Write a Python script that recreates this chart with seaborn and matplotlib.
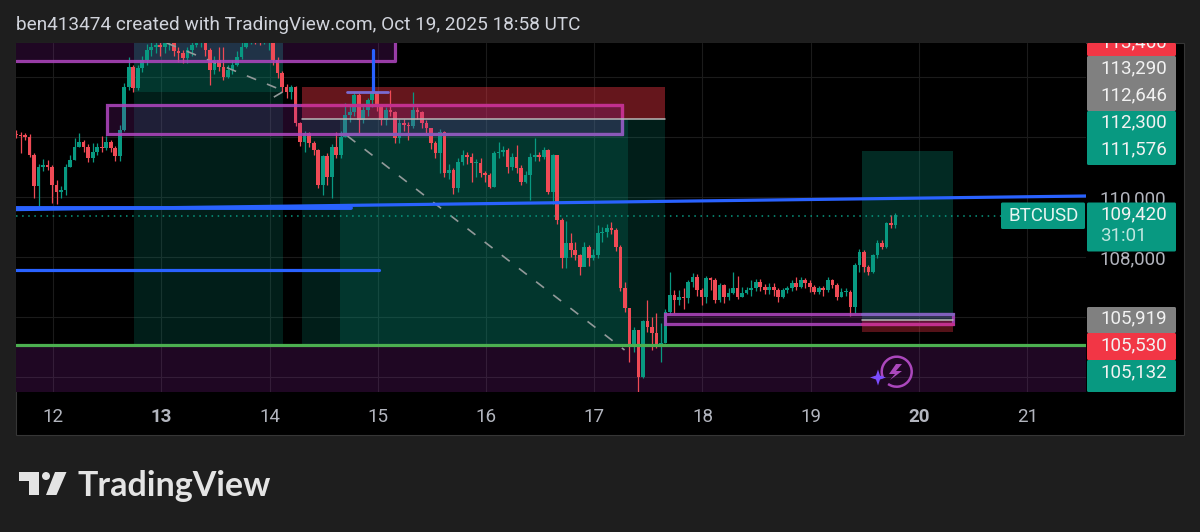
import numpy as np
import pandas as pd
import matplotlib
matplotlib.use("Agg")
import matplotlib.pyplot as plt
from matplotlib.patches import Rectangle, FancyBboxPatch, Polygon, Circle, Arc
from matplotlib.transforms import Bbox
import seaborn as sns

# ---------- data (BTCUSD hourly candles) ----------
close = [112070,112030,112010,111400,110350,111010,111070,111010,110400,110180,110230,111010,111230,111680,111840,111680,111290,111510,111680,111620,111840,111620,111350,112230,113680,114340,113620,114290,114570,114900,115010,115070,115010,115120,115230,114850,114790,114620,114900,115070,115120,115180,114900,114230,114570,114340,114010,114230,114400,114680,115010,115180,115290,115230,115180,115230,115230,114570,114120,113680,113510,113680,112460,111840,112120,111790,111570,110400,111350,110680,111680,111400,112000,112730,112840,113400,112570,112900,113230,113450,113010,112570,112900,112840,111950,112460,112400,112350,112900,112840,112460,112290,111790,111460,112180,110790,110900,110290,111180,111400,111340,111120,111120,110790,110730,110340,111460,111510,111570,111010,111340,110960,110510,110730,111340,111400,111340,111570,110180,111400,109230,107950,108460,108230,108070,107680,108340,107950,108070,108790,108840,108950,108900,108340,106950,106290,105070,105570,104010,105850,105680,105450,105070,105120,106180,106730,106570,106680,106620,107180,107340,106900,106680,107290,107230,106570,107070,106680,106790,106950,106680,106790,106900,106950,107180,107010,106900,107010,106900,106680,106900,106950,107120,107010,107230,107120,107010,106840,106950,106900,107230,107070,106680,106840,106840,106340,107730,108180,107680,107510,108070,108460,108340,109120,109070,109400]
high = [112230,112180,112120,112100,111480,111100,111250,111220,111050,110560,110350,111090,111400,111950,112120,111900,111750,111790,111800,112030,112020,111900,111700,112400,113800,114680,114400,114400,114700,115100,115200,115200,115200,115300,115300,115250,115000,114900,115000,115200,115300,115300,115250,114950,114700,115000,115000,114400,114550,114850,115200,115300,115400,115350,115300,115350,115350,115300,114650,114200,113750,113720,113700,112500,112200,112180,111850,111600,111400,111450,111750,112170,112200,113120,113050,113500,113450,113050,113300,113550,113450,113100,113000,113570,112850,112600,112600,112500,113500,113000,112850,112550,112300,111850,112250,112200,111100,110950,111300,111550,111500,111450,111250,111300,110850,110800,111520,111830,111700,111620,111450,111720,111050,110850,111450,111950,111500,111650,111600,111430,110730,109300,109200,108790,108500,108100,108500,108400,108250,109070,109000,109090,109180,108950,108400,107150,106300,105650,105150,105900,106560,106000,106120,105790,106250,107510,106900,106900,106950,107230,107450,107430,106950,107350,107320,107300,107130,107100,106950,107500,107350,107000,107000,107230,107250,107270,107100,107120,107130,106950,106980,107030,107230,107320,107320,107300,107230,107050,107030,107030,107340,107280,107120,106950,106950,106900,107800,108250,108220,107730,108100,108550,108570,109180,109400,109450]
low = [111950,111450,111900,111320,109950,109680,110850,110900,109800,109750,109950,110050,111000,111230,111650,111500,111150,111170,111400,111500,111550,111500,111200,111200,112200,113550,113500,113550,114150,114400,114700,114800,114700,114800,114900,114700,114500,114450,114450,114700,115000,115000,114700,113730,114100,114200,113900,113950,114100,114350,114600,114950,115100,115100,115050,115100,114900,114400,113950,113500,113300,113250,112350,111700,111500,111650,111400,110300,110050,110400,109950,111300,111300,112000,112500,112700,112070,112450,112700,113000,112850,112400,112400,112700,111790,111800,112200,111900,112300,112600,112300,112100,111600,111300,110800,110650,110600,110100,110170,111050,111100,110500,110650,110650,110500,110300,110340,111300,111350,110800,110900,110800,110400,110450,109900,111200,111200,111250,110100,109750,109100,107630,107620,108000,107900,107400,107730,107700,107900,107950,108500,108650,108750,108200,106850,106150,104510,104840,103510,103950,105500,104900,104950,104510,105120,106100,106120,106400,106250,106480,107000,106700,106400,106450,106900,106450,106500,106450,106550,106750,106600,106650,106750,106700,106850,106850,106750,106780,106700,106500,106640,106800,106850,106890,106950,106950,106820,106750,106780,106700,106830,106950,106560,106650,106700,106030,106120,107500,107500,107400,107450,107950,108250,108300,108980,108950]
first_open = 112100
first_day = 11.658
day_ticks = [12, 13, 14, 15, 16, 17, 18, 19, 20, 21]
bold_days = [13, 20]
price_ticks = [114000, 112000, 110000, 108000, 106000, 104000]
shown_price_labels = [110000, 108000]
trend_days = [11.658, 21.543]
trend_prices = [109580, 110033]
last_price = 109380
support = 105067
upper_labels = ["113,460", "113,290", "112,646", "112,300", "111,576"]
lower_labels = ["105,919", "105,530", "105,132"]
title = "ben413474 created with TradingView.com, Oct 19, 2025 18:58 UTC"

GREEN, RED, PURPLE, BLUE = "#089981", "#f23645", "#9c27b0", "#2962ff"
CANDLE_RED = "#ef4a55"
MAGENTA = "#c2308e"
GREY = "#808080"

sns.set_theme(style="dark")
plt.rcParams["font.family"] = ["Roboto", "DejaVu Sans"]

W, H = 1200, 532
fig = plt.figure(figsize=(W / 100, H / 100), dpi=100, facecolor="#1e1e1e")

# black chart frame behind everything
bg = fig.add_axes([0, 0, 1, 1], zorder=0)
bg.set_xlim(0, W); bg.set_ylim(H, 0); bg.axis("off")
bg.add_patch(Rectangle((16, 43), 1168, 392, fc="#000000", ec="#363636", lw=0.8))

ax = fig.add_axes([16 / W, 1 - 392 / H, 1070 / W, 349 / H], zorder=1)
ax.set_facecolor("#000000")
ax.set_xlim(11.658, 21.543)
ax.set_ylim(103500, 115133)
for s in ax.spines.values():
    s.set_visible(False)
ax.set_xticks(day_ticks)
ax.set_xticklabels([str(d) for d in day_ticks], fontsize=13.5, color="#b2b5be")
for lab, d in zip(ax.get_xticklabels(), day_ticks):
    if d in bold_days:
        lab.set_fontweight("bold")
ax.yaxis.tick_right()
ax.set_yticks(price_ticks)
ax.set_yticklabels([f"{p:,}" if p in shown_price_labels else "" for p in price_ticks],
                   fontsize=13.5, color="#b2b5be")
ax.tick_params(axis="x", length=0, pad=11.5)
ax.tick_params(axis="y", length=0, pad=10)
ax.grid(True, color="#1b1b1b", lw=0.8)
ax.set_axisbelow(True)


def box(x0, x1, p0, p1, **kw):
    ax.add_patch(Rectangle((x0, p0), x1 - x0, p1 - p0, **kw))


# position boxes
box(12.748, 14.125, 105090, 115133, fc=GREEN, alpha=0.20, lw=0, zorder=1)
box(12.748, 14.125, 113500, 115133, fc=GREEN, alpha=0.20, lw=0, zorder=1)
box(14.300, 17.654, 105090, 112600, fc=GREEN, alpha=0.20, lw=0, zorder=1)
box(14.651, 17.312, 105090, 112600, fc=GREEN, alpha=0.20, lw=0, zorder=1)
box(14.300, 17.654, 112600, 113667, fc=RED, alpha=0.42, lw=0, zorder=1)
box(19.473, 20.314, 105900, 111533, fc=GREEN, alpha=0.28, lw=0, zorder=1)
box(19.473, 20.314, 105500, 105900, fc=RED, alpha=0.35, lw=0, zorder=1)
# demand zones
box(11.658, 15.159, 114533, 115300, fc=PURPLE, alpha=0.20, lw=0, zorder=1)
box(11.658, 21.543, 103500, 105033, fc=PURPLE, alpha=0.20, lw=0, zorder=1)

# candles
df = pd.DataFrame({"close": close, "high": high, "low": low})
df["open"] = df["close"].shift(1).fillna(first_open)
df["day"] = first_day + np.arange(len(df)) / 24
df["color"] = np.where(df["close"] >= df["open"], GREEN, CANDLE_RED)
ax.vlines(df["day"], df["low"], df["high"], colors=df["color"], lw=0.9, zorder=3)
ax.bar(df["day"], (df["close"] - df["open"]).abs().clip(lower=40),
       bottom=df[["open", "close"]].min(axis=1), width=0.034,
       color=df["color"], lw=0, zorder=3)

# drawn rectangles
edge = (0.68, 0.27, 0.74, 0.88)
for x0, x1, p0, p1 in [(12.499, 17.256, 112100, 113067), (17.654, 20.314, 105750, 106100)]:
    box(x0, x1, p0, p1, fc=(0.61, 0.15, 0.69, 0.2), ec=edge, lw=2.3, zorder=4)
ax.plot([11.658, 15.159, 15.159], [114533, 114533, 115200], color=edge, lw=2.3, zorder=4)
# the same borders where they cross the red and green boxes
ax.plot([14.30, 17.256, 17.256], [113067, 113067, 112600], color=MAGENTA, lw=2.3, zorder=4)
ax.plot([14.651, 17.256], [112100, 112100], color="#8a58b8", lw=2.3, zorder=4)
ax.plot([17.256, 17.256], [112600, 112100], color="#8a58b8", lw=2.3, zorder=4)
ax.plot([19.473, 20.314], [106100, 106100], color="#8060bc", lw=2.3, zorder=4)
ax.plot([19.473, 20.314], [105750, 105750], color=MAGENTA, lw=2.3, zorder=4)

# white entry lines
ax.plot([14.300, 17.654], [112600, 112600], color="#b8b8b8", lw=1.1, zorder=4)
ax.plot([19.473, 20.314], [105900, 105900], color="#b8b8b8", lw=1.1, zorder=4)

# dashed path
for dx, dy in [([13.05, 14.11], [115133, 113567]), ([14.04, 14.12], [113330, 113500]),
               ([14.72, 17.28], [112033, 104900])]:
    ax.plot(dx, dy, color="#929999", lw=1.2, dashes=(6, 7), zorder=3)

# lines through seaborn
sns.lineplot(x=trend_days, y=trend_prices, ax=ax, color=BLUE, lw=2.3, zorder=5, estimator=None)
sns.lineplot(x=[11.658, 14.753], y=[109630, 109630], ax=ax, color=BLUE, lw=2.8, zorder=5, estimator=None)
sns.lineplot(x=[11.658, 15.012], y=[107550, 107550], ax=ax, color=BLUE, lw=2.3, zorder=5, estimator=None)
sns.lineplot(x=[14.956, 14.956], y=[113500, 114900], ax=ax, color=BLUE, lw=2.3, zorder=5, estimator=None)
sns.lineplot(x=[14.716, 15.095], y=[113500, 113500], ax=ax, color="#7a6bd0", lw=2.0, zorder=5, estimator=None)
sns.lineplot(x=[11.658, 21.543], y=[support, support], ax=ax, color="#4caf50", lw=2.3, zorder=5, estimator=None)
ax.plot([11.658, 20.88], [last_price, last_price], color=GREEN, lw=1.1, ls=(0, (1, 3)), zorder=4)
ax.set_xlabel(""); ax.set_ylabel("")

# overlay in figure pixels: price labels, header, logo
ov = fig.add_axes([0, 0, 1, 1], zorder=5)
ov.set_xlim(0, W); ov.set_ylim(H, 0); ov.axis("off"); ov.patch.set_alpha(0)


def tag(x, y, w, h, color, z=2):
    p = FancyBboxPatch((x, y), w, h, boxstyle="round,pad=0,rounding_size=1.5", fc=color, ec="none", zorder=z)
    ov.add_patch(p)
    return p


def label(y, s, color="#f2f2f2", clip=None):
    t = ov.text(1167, y, s, ha="right", va="center", fontsize=13.5, color=color, zorder=4)
    if clip is not None:
        t.set_clip_on(True)
        t.set_clip_box(clip)


tag(1087, 43, 89, 13, RED)
tag(1087, 56, 89, 55, GREY)
tag(1087, 111, 89, 54, GREEN)
tag(1087, 307, 89, 26, GREY)
tag(1087, 333, 89, 27, RED)
tag(1087, 360, 89, 32, GREEN)
tag(1087, 202.5, 89, 49, GREEN)
tag(1001, 202.5, 84, 26.5, GREEN)
# the top label is cut off by the chart's upper edge, as in the reference
label(42, upper_labels[0], clip=Bbox.from_extents(1087, H - 56, 1176, H - 43))
for y, s in zip([68.5, 95.5, 122.5, 149.5], upper_labels[1:]):
    label(y, s)
for y, s in zip([318, 345, 372], lower_labels):
    label(y, s)
label(214, "109,420")
ov.text(1100, 236, "31:01", ha="left", va="center", fontsize=13.5, color="#bfe6df", zorder=4)
ov.text(1043.5, 216, "BTCUSD", ha="center", va="center", fontsize=13.5, color="#e6f5f2", zorder=4)

ov.text(16, 25, title, ha="left", va="center", fontsize=13.7, color="#d1d4dc")

# assistant icon
ov.add_patch(Arc((896.7, 371.7), 30, 30, theta1=-205, theta2=125, color="#ab47bc", lw=1.8))
ov.add_patch(Polygon([(896, 364), (889, 374), (895, 374), (890, 380), (902, 371), (896, 371), (902, 364)],
                     fc="#ab47bc", ec="none"))
sx, sy, a, b = 878, 377.5, 8, 2
ov.add_patch(Polygon([(sx, sy - a), (sx + b, sy - b), (sx + a, sy), (sx + b, sy + b),
                      (sx, sy + a), (sx - b, sy + b), (sx - a, sy), (sx - b, sy - b)],
                     fc="#7c4dff", ec="none"))

# TradingView wordmark
LOGO = "#e4e4e4"
ov.add_patch(Polygon([(19, 472), (38.5, 472), (38.5, 495), (28.5, 495), (28.5, 481), (19, 481)], fc=LOGO, ec="none"))
ov.add_patch(Circle((46, 476), 4, fc=LOGO, ec="none"))
ov.add_patch(Polygon([(55, 472), (66.5, 472), (56.5, 495), (46, 495)], fc=LOGO, ec="none"))
ov.text(77, 486, "TradingView", ha="left", va="center", fontsize=24.5, fontweight="bold",
        family=["Lato", "DejaVu Sans"], color=LOGO)

fig.savefig("out.png", dpi=100, facecolor=fig.get_facecolor())
